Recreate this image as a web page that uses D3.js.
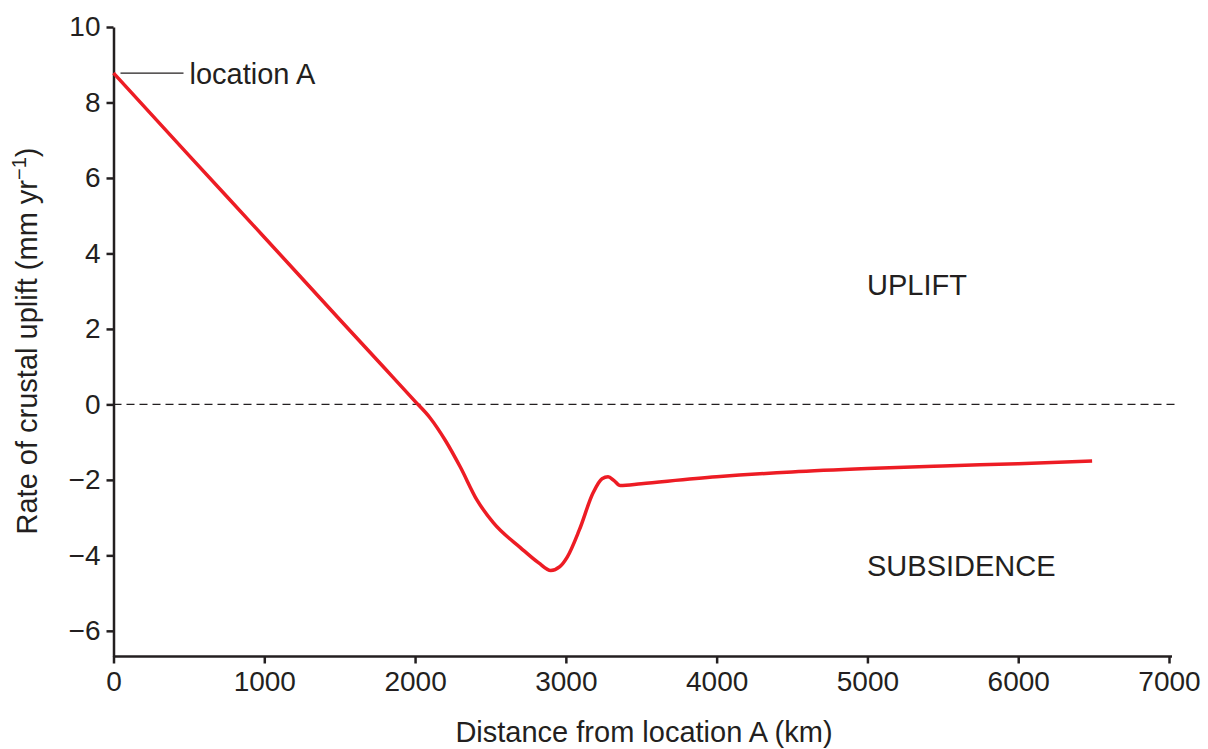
<!DOCTYPE html>
<html>
<head>
<meta charset="utf-8">
<script src="https://cdn.jsdelivr.net/npm/d3@7"></script>
<style>
  body { margin: 0; background: #fff; }
  svg text { font-family: "Liberation Sans", Arial, sans-serif; fill: #231f20; }
</style>
</head>
<body>
<svg id="chart" width="1208" height="749"></svg>
<script>
// Crustal uplift profile
const distanceKm = [0, 500, 1000, 1500, 1800, 2000, 2100, 2200, 2300, 2410, 2520, 2700, 2820, 2900, 2960, 3010, 3090, 3180, 3240, 3280, 3320, 3360, 3500, 4000, 4500, 5000, 5500, 6000, 6490];
const upliftRate = [8.78, 6.6, 4.43, 2.25, 0.95, 0.08, -0.36, -0.95, -1.66, -2.53, -3.14, -3.8, -4.2, -4.4, -4.3, -4.04, -3.32, -2.35, -1.97, -1.92, -2.02, -2.15, -2.1, -1.92, -1.79, -1.7, -1.63, -1.57, -1.5];

const xTicks = [0, 1000, 2000, 3000, 4000, 5000, 6000, 7000];
const yTicks = [-6, -4, -2, 0, 2, 4, 6, 8, 10];

const svg = d3.select('#chart');
const fontSize = 29;
const tickFont = 28;

const x = d3.scaleLinear().domain([0, 7000]).range([113.5, 1169]);
const y = d3.scaleLinear().domain([-6.68, 10]).range([656.5, 27]);

const fmt = d => d < 0 ? '\u2212' + Math.abs(d) : String(d);

// Axes
const xAxis = svg.append('g')
    .attr('transform', `translate(0,${y(-6.68)})`)
    .call(d3.axisBottom(x).tickValues(xTicks).tickSize(7).tickSizeOuter(0).tickPadding(8).tickFormat(fmt));

const yAxis = svg.append('g')
    .attr('transform', `translate(${x(0)},0)`)
    .call(d3.axisLeft(y).tickValues(yTicks).tickSize(7).tickSizeOuter(0).tickPadding(6).tickFormat(fmt));

[xAxis, yAxis].forEach(g => {
    g.select('.domain').attr('stroke', '#231f20').attr('stroke-width', 2.5);
    g.selectAll('.tick line').attr('stroke', '#231f20').attr('stroke-width', 2.5);
    g.selectAll('.tick text')
        .attr('fill', '#231f20')
        .style('font-size', tickFont + 'px')
        .style('font-family', '"Liberation Sans", Arial, sans-serif');
});
// x axis line runs a little beyond the last tick
xAxis.select('.domain').attr('d', `M${x(0)},0H${x(7000) + 3}`);

// Zero reference line
svg.append('line')
    .attr('x1', x(0)).attr('x2', x(7000) + 8)
    .attr('y1', y(0)).attr('y2', y(0))
    .attr('stroke', '#231f20')
    .attr('stroke-width', 1.3)
    .attr('stroke-dasharray', '8,5');

// Profile curve
const line = d3.line()
    .x((d, i) => x(distanceKm[i]))
    .y(d => y(d))
    .curve(d3.curveMonotoneX);

svg.append('path')
    .datum(upliftRate)
    .attr('fill', 'none')
    .attr('stroke', '#ed1c24')
    .attr('stroke-width', 3.5)
    .attr('d', line);

// Location A annotation
svg.append('line')
    .attr('x1', x(0) + 7).attr('x2', x(0) + 70)
    .attr('y1', y(upliftRate[0])).attr('y2', y(upliftRate[0]))
    .attr('stroke', '#231f20').attr('stroke-width', 1.2);

svg.append('text')
    .attr('x', x(0) + 76).attr('y', y(upliftRate[0]) + 11)
    .style('font-size', fontSize + 'px')
    .text('location A');

svg.append('text')
    .attr('x', 867).attr('y', 295)
    .style('font-size', fontSize + 'px')
    .text('UPLIFT');

svg.append('text')
    .attr('x', 867).attr('y', 576)
    .style('font-size', fontSize + 'px')
    .text('SUBSIDENCE');

// Axis titles
svg.append('text')
    .attr('x', 644).attr('y', 742)
    .attr('text-anchor', 'middle')
    .style('font-size', fontSize + 'px')
    .text('Distance from location A (km)');

const yTitle = svg.append('text')
    .attr('transform', 'translate(37,341) rotate(-90)')
    .attr('text-anchor', 'middle')
    .style('font-size', fontSize + 'px');
yTitle.append('tspan').text('Rate of crustal uplift (mm yr');
yTitle.append('tspan').attr('dy', -11).style('font-size', '20px').text('\u22121');
yTitle.append('tspan').attr('dy', 11).text(')');
</script>
</body>
</html>
